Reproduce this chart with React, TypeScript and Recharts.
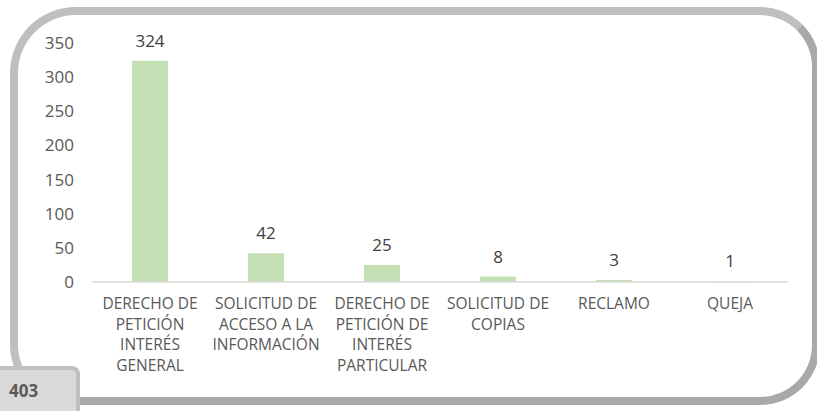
import React from "react";
import { BarChart, Bar, XAxis, YAxis, LabelList } from "recharts";

const categories = [
  "DERECHO DE\nPETICIÓN\nINTERÉS\nGENERAL",
  "SOLICITUD DE\nACCESO A LA\nINFORMACIÓN",
  "DERECHO DE\nPETICIÓN DE\nINTERÉS\nPARTICULAR",
  "SOLICITUD DE\nCOPIAS",
  "RECLAMO",
  "QUEJA",
];
const values = [324, 42, 25, 8, 3, 1];
const yTicks = [0, 50, 100, 150, 200, 250, 300, 350];
const totalLabel = "403";

const data = categories.map((c, i) => ({ name: c, value: values[i] }));

const FONT = "'Open Sans', 'Noto Sans', sans-serif";

const CatTick = (props: any) => {
  const { x, y, payload } = props;
  const lines = String(payload.value).split("\n");
  return (
    <text x={x} y={y} textAnchor="middle" fill="#595959" fontSize={15.5} fontFamily={FONT}>
      {lines.map((l, i) => (
        <tspan key={i} x={x} dy={i === 0 ? 19 : 20.5}>
          {l}
        </tspan>
      ))}
    </text>
  );
};

export default function App() {
  return (
    <div style={{ position: "absolute", left: 0, top: 0, width: 817, height: 411, overflow: "hidden", background: "#fff" }}>
      <div
        style={{
          position: "absolute",
          left: 10,
          top: 7,
          width: 810,
          height: 398,
          boxSizing: "border-box",
          borderStyle: "solid",
          borderWidth: 8,
          borderColor: "#bfbfbf #a9a9a9 #a9a9a9 #bfbfbf",
          borderRadius: "66px 60px 60px 60px",
        }}
      />
      <div style={{ position: "absolute", left: 0, top: 0 }}>
        <BarChart
          width={817}
          height={411}
          data={data}
          margin={{ top: 43, right: 29, bottom: 0, left: 0 }}
          barCategoryGap={0}
        >
          <YAxis
            type="number"
            domain={[0, 350]}
            ticks={yTicks}
            width={92}
            axisLine={false}
            tickLine={false}
            tickMargin={12}
            tick={{ fill: "#595959", fontSize: 17, fontFamily: FONT }}
            interval={0}
          />
          <XAxis
            dataKey="name"
            axisLine={{ stroke: "#d9d9d9", strokeWidth: 1.5 }}
            tickLine={false}
            tick={<CatTick />}
            interval={0}
            height={129}
          />
          <Bar dataKey="value" fill="#c5e0b4" barSize={36} isAnimationActive={false}>
            <LabelList
              dataKey="value"
              position="top"
              offset={14}
              fill="#404040"
              fontSize={17}
              fontFamily={FONT}
            />
          </Bar>
        </BarChart>
      </div>
      <div
        style={{
          position: "absolute",
          left: 0,
          top: 366,
          width: 80,
          height: 50,
          boxSizing: "border-box",
          background: "#d9d9d9",
          borderTop: "4px solid #bfbfbf",
          borderRight: "4px solid #bfbfbf",
          borderTopRightRadius: 8,
          fontFamily: FONT,
          fontWeight: 700,
          fontSize: 17,
          lineHeight: "20px",
          color: "#595959",
          paddingLeft: 9,
          paddingTop: 11,
        }}
      >
        {totalLabel}
      </div>
    </div>
  );
}
